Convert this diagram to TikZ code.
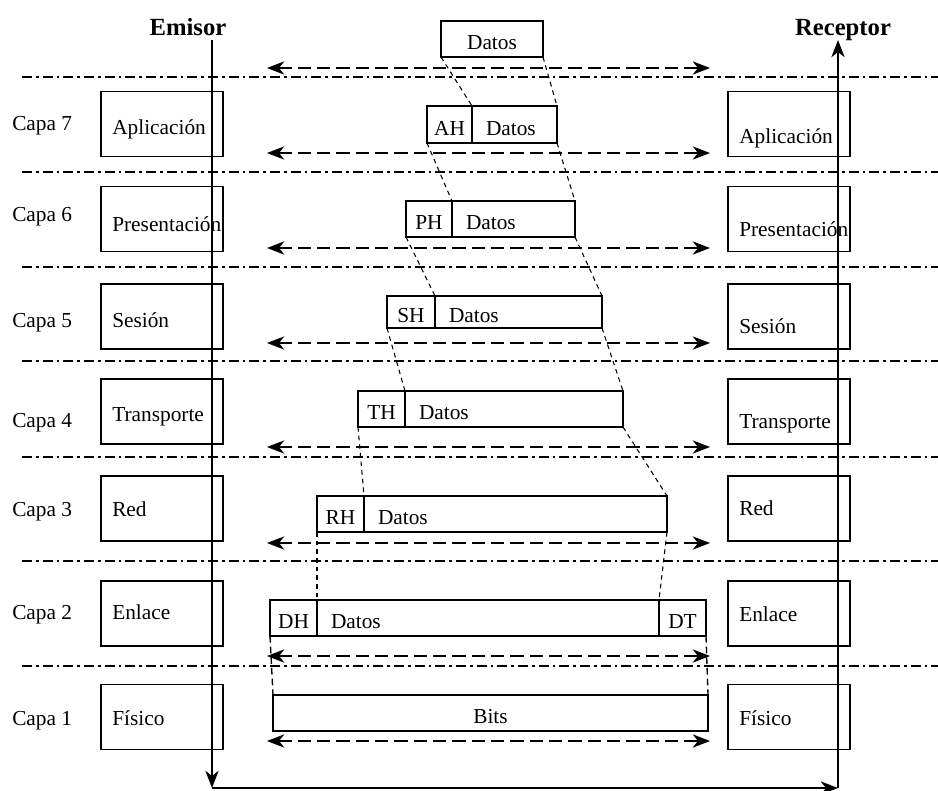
\documentclass[tikz,border=0pt]{standalone}
\usepackage{fontspec}
\setmainfont{Liberation Serif}
\usetikzlibrary{arrows.meta,positioning}

\tikzset{
  capa/.style={draw, line width=1pt, minimum width=91.5pt, minimum height=48.75pt, inner sep=0pt, outer sep=0pt},
  txt/.style={inner sep=0pt, anchor=base west},
  titulo/.style={inner sep=0pt, anchor=base, font=\fontsize{18.5}{22}\selectfont\bfseries},
  trama/.style={draw, line width=1pt, minimum height=27pt, inner sep=0pt, outer sep=0pt, text height=16pt, text depth=0pt},
  datos/.style={trama, inner xsep=10.5pt, align=left},
  sep/.style={line width=1.1pt, dash pattern=on 7.5pt off 3pt on 2pt off 3pt},
  punta/.tip={Stealth[length=13pt,width=10pt,inset=4pt]},
  flecha/.style={line width=1.1pt, dash pattern=on 10pt off 4.5pt, punta-punta},
  enlace/.style={line width=0.8pt, dash pattern=on 3.5pt off 3pt},
  bajada/.style={line width=1pt, dash pattern=on 5pt off 3pt},
  eje/.style={line width=1pt, -punta}
}

\begin{document}
\begin{tikzpicture}[x=0.75pt,y=0.75pt,yscale=-1,xscale=1,font=\fontsize{16}{19}\selectfont]
\useasboundingbox (0,0) rectangle (938,790);

% Separadores
\foreach \y in {77,172,267,361,457,561,666}
  \draw[sep] (22,\y) -- (938,\y);

% Capas (emisor y receptor)
\foreach \n/\y/\nom/\dc/\dl/\dr in {7/124/Aplicación/0/4/13, 6/219/Presentación/-4/6/11, 5/316.5/Sesión/5/5/11, 4/411.5/Transporte/10/4/11, 3/508.5/Red/2/2/1, 2/613.5/Enlace/0/0/2, 1/717/Físico/2/2/2}
{
  \node[txt] (c\n) at (12,{\y+\dc+6}) {Capa \n};
  \node[capa] (e\n) at (162,\y) {};
  \node[txt] (te\n) at (112,{\y+\dl+6}) {\nom};
  \node[capa] (r\n) at (789,\y) {};
  \node[txt] (tr\n) at (739,{\y+\dr+6}) {\nom};
}

% Emisor / Receptor
\node[titulo] (emisor) at (188,35) {Emisor};
\node[titulo] (receptor) at (843,35) {Receptor};
\coordinate (esup) at (212,40);
\coordinate (einf) at (212,788);
\coordinate (rinf) at (838,788);
\coordinate (rsup) at (838,40);
\draw[eje] (esup) -- (einf);
\draw[eje] (einf) -- (rinf);
\draw[eje] (rinf) -- (rsup);

% Flechas entre pares
\foreach \i/\y in {0/68,1/153,2/248,3/343,4/447,5/543,6/656,7/741}
{
  \coordinate (fl\i) at (267,\y);
  \coordinate (fr\i) at (710,\y);
  \draw[flecha] (fl\i) -- (fr\i);
}

% Tramas
\node[trama, minimum width=76.5pt] (d0) at (492,39) {Datos};
\foreach \h/\x/\y/\alto/\wh/\tw/\etq in {ah/427/124.5/27.75/33.75/42.75/AH, ph/406/219/27/34.5/71.25/PH, sh/387/312/24/36/104.25/SH, th/358/409/27/35.25/142.5/TH, rh/317/514/27/35.25/206.25/RH, dh/270/618/27/35.25/235.5/DH}
{
  \node[trama, anchor=west, minimum width=\wh pt, minimum height=\alto pt] (\h) at (\x,\y) {\etq};
  \node[datos, minimum height=\alto pt, text width=\tw pt, right=0pt of \h] (d\h) {Datos};
}
\node[trama, minimum width=35.25pt, right=0pt of ddh] (dt) {DT};
\node[trama, minimum width=326.25pt] (bits) at (490.5,713) {Bits};

% Encapsulado
\draw[enlace] (d0.south west) -- (ah.north east);
\draw[enlace] (d0.south east) -- (dah.north east);
\foreach \a/\b in {ah/ph, ph/sh, sh/th, th/rh, rh/dh}
  \draw[enlace] (\a.south west) -- (\b.north east);
\foreach \a/\b in {ah/ph, ph/sh, sh/th, th/rh}
  \draw[enlace] (d\a.south east) -- (d\b.north east);
\draw[enlace] (drh.south east) -- (dt.north west);
\draw[bajada] (dh.south west) -- (bits.north west);
\draw[bajada] (dt.south east) -- (bits.north east);

\end{tikzpicture}
\end{document}
